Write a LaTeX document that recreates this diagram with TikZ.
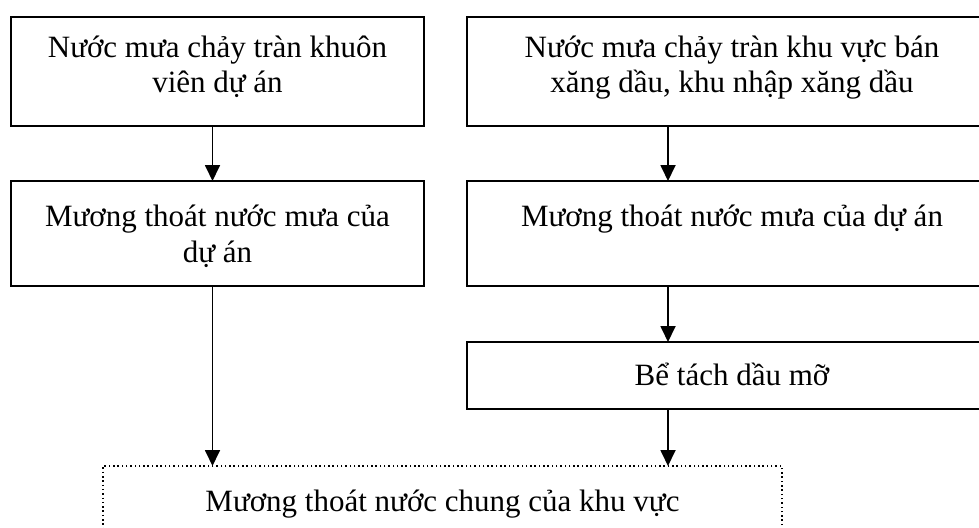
\documentclass[tikz,border=0pt]{standalone}
\usepackage{fontspec}
\setmainfont{Liberation Serif}
\usetikzlibrary{arrows.meta}
\newcommand\boxtext[4]{\parbox[c][#2pt][t]{#1pt}{\centering\fontsize{31}{36}\selectfont\rule{0pt}{#3pt}#4\par}}
\begin{document}
\begin{tikzpicture}[x=1pt,y=1pt,
  box/.style={draw, line width=1.8pt, inner sep=0pt, outer sep=0pt},
  dotbox/.style={draw, line width=1.5pt, dash pattern=on 1.5pt off 2.8pt, inner sep=0pt, outer sep=0pt},
  arr/.style={line width=1.8pt, -{Triangle[length=16pt,width=15pt]}}]
\useasboundingbox (0,0) rectangle (979,-527);
\clip (0,0) rectangle (979,-527);
\node[box] (A) at (217.5,-71.5) {\boxtext{413}{109}{40}{Nước mưa chảy tràn khuôn\\viên dự án}};
\node[box] (B) at (732,-71.5) {\boxtext{530}{109}{40}{Nước mưa chảy tràn khu vực bán\\xăng dầu, khu nhập xăng dầu}};
\node[box] (C) at (217.5,-233.5) {\boxtext{413}{105}{45}{Mương thoát nước mưa của\\dự án}};
\node[box] (D) at (732,-233.5) {\boxtext{530}{105}{45}{Mương thoát nước mưa của dự án}};
\node[box] (E) at (732,-375.5) {\boxtext{530}{67}{43}{Bể tách dầu mỡ}};
\node[dotbox] (F) at (442.5,-513) {\boxtext{679}{94}{45}{Mương thoát nước chung của khu vực}};
\coordinate (xl) at (212.5,0);
\coordinate (xr) at (668,0);
\draw[arr] (A.south -| xl) -- (C.north -| xl);
\draw[arr] (C.south -| xl) -- (F.north -| xl);
\draw[arr] (B.south -| xr) -- (D.north -| xr);
\draw[arr] (D.south -| xr) -- (E.north -| xr);
\draw[arr] (E.south -| xr) -- (F.north -| xr);
\end{tikzpicture}
\end{document}
